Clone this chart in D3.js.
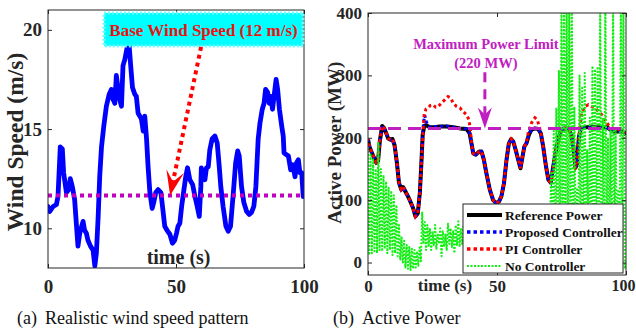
<!DOCTYPE html>
<html><head><meta charset="utf-8">
<script src="https://cdn.jsdelivr.net/npm/d3@7"></script>
<style>body{margin:0;background:#fff} svg{display:block}</style>
</head><body>
<svg id="c" width="636" height="334"></svg>
<script>
// ---------- DATA ----------
const windTicksX = [0, 50, 100];
const windTicksY = [10, 15, 20];
const baseWind = 11.65;
const windSpeed = [[0,11.1],[0.7,10.85],[2,11.1],[3.3,11.2],[3.9,11.6],[4.8,14.1],[5.6,14.0],[6.1,12.8],[7.2,11.8],[8.1,11.95],[8.7,12.5],[9.5,12.1],[10.4,11.45],[11.7,9.1],[12.4,9.75],[13.7,10.35],[14.3,9.9],[15,9.75],[15.6,9.4],[16.6,9.1],[17.6,8.9],[18.3,8.1],[18.9,8.75],[19.6,10.6],[20.2,12.6],[20.9,14.1],[21.8,15.15],[22.8,16.15],[23.9,16.75],[24.8,17.0],[25.4,16.5],[26.1,16.3],[26.7,17.7],[27.4,17.0],[28.0,16.5],[28.7,16.15],[29.3,18.2],[30.0,18.5],[30.9,19.1],[31.7,19.2],[32.3,18.2],[33.0,17.1],[33.9,16.75],[34.5,16.65],[35.2,15.8],[35.9,15.65],[36.5,15.5],[37.2,14.9],[37.8,15.65],[38.5,14.5],[39.1,13.1],[39.8,11.8],[40.7,11.0],[41.3,11.3],[42.1,11.8],[43.0,11.95],[44.1,11.8],[45.0,10.8],[45.6,10.1],[46.5,9.9],[47.6,9.7],[48.6,9.25],[49.5,9.4],[50.2,9.75],[50.8,10.1],[51.5,10.25],[52.2,11.1],[53.1,11.95],[53.8,12.6],[54.5,13.05],[55.4,12.45],[56.5,12.2],[57.4,11.6],[58.3,11.1],[59.1,10.6],[59.7,12.1],[59.9,13.05],[60.6,12.6],[61.3,12.45],[61.9,13.05],[62.6,13.1],[63.2,13.95],[64.1,14.5],[65.2,14.65],[66.1,14.3],[66.9,13.1],[67.5,12.1],[68.4,11.1],[69.5,10.1],[70.4,9.85],[71.3,10.1],[72.4,11.8],[73.3,13.3],[74.1,13.9],[74.7,13.65],[75.6,12.1],[76.5,11.3],[77.6,10.85],[78.6,10.7],[79.5,10.8],[80.4,11.1],[81.2,12.1],[82.1,14.5],[82.8,15.3],[83.7,16.0],[84.4,16.3],[85.0,17.0],[85.8,16.85],[86.4,16.3],[87.0,16.65],[87.7,16.0],[88.3,16.65],[89.1,17.5],[89.7,17.0],[90.4,16.0],[91.3,15.15],[91.9,14.65],[92.2,13.8],[93.2,13.7],[93.9,13.65],[94.8,12.95],[95.6,13.2],[96.5,12.6],[97.1,13.3],[97.8,13.45],[98.4,12.8],[99.1,12.8],[99.7,11.6],[100,11.6]];

const powerTicksX = [0, 50, 100];
const powerTicksY = [0, 100, 200, 300, 400];
const powerLimit = 215;
const refPower = [[0,198],[0.6,185],[1.9,172],[3.2,160],[3.9,163],[4.6,195],[5.5,219],[6.2,216],[7.1,207],[7.8,199],[8.7,197],[9.5,198],[10.3,188],[11.2,160],[12.0,128],[12.9,117],[13.6,121],[14.6,113],[15.5,106],[16.4,98],[17.5,87],[18.4,74],[19.3,79],[20.1,112],[20.7,160],[21.2,205],[21.8,219],[22.6,220],[23.9,217],[25.9,217],[27.8,218],[30.4,218],[33,217],[35.6,215],[38.2,214],[39.4,207],[40.1,191],[40.8,175],[41.8,173],[43.1,178],[44,178],[44.9,165],[45.9,143],[47.2,117],[48.5,100],[49.8,95],[50.8,98],[51.7,106],[52.7,127],[53.7,165],[54.6,191],[55.5,198],[56.3,194],[57.2,181],[58.2,165],[59.1,151],[59.9,170],[60.6,186],[61.4,191],[62.4,205],[63.4,213],[64.7,215],[66,214],[67,207],[67.9,186],[69,154],[69.9,133],[70.8,128],[71.8,154],[73.1,186],[74.4,207],[75.7,215],[77.6,215],[78.8,205],[79.6,185],[80.4,152],[81.0,157],[81.7,200],[82.5,215],[84.7,217],[88.6,217],[92.5,217],[95.1,210],[97.7,210],[99,210],[100,205]];
const proposedPower = [[0,198],[0.6,185],[1.9,172],[3.2,160],[3.9,163],[4.6,195],[5.5,219],[6.2,216],[7.1,207],[7.8,199],[8.7,197],[9.5,198],[10.3,188],[11.2,160],[12.0,128],[12.9,117],[13.6,121],[14.6,113],[15.5,106],[16.4,98],[17.5,87],[18.4,74],[19.3,79],[20.1,112],[20.7,160],[21.2,210],[21.6,226],[22.0,236],[22.6,226],[23.2,220],[23.9,217],[25.9,218],[27.8,218],[30.4,219],[33,217],[35.6,215],[38.2,214],[39.4,207],[40.1,191],[40.8,175],[41.8,173],[43.1,178],[44,178],[44.9,165],[45.9,143],[47.2,117],[48.5,100],[49.8,95],[50.8,98],[51.7,106],[52.7,127],[53.7,165],[54.6,191],[55.5,198],[56.3,194],[57.2,181],[58.2,165],[59.1,151],[59.9,170],[60.6,186],[61.4,191],[62.4,205],[63.4,213],[64.7,215],[66,214],[67,207],[67.9,186],[69,154],[69.9,133],[70.8,128],[71.8,154],[73.1,186],[74.4,207],[75.7,215],[77.6,215],[78.8,205],[79.6,185],[80.4,152],[81.0,157],[81.7,200],[82.5,216],[84.7,216],[88.6,216],[92.5,216],[95.1,211],[97.7,210],[99,210],[100,205]];
const piPower = [[0,198],[0.6,185],[1.9,172],[3.2,160],[3.9,163],[4.6,195],[5.5,219],[6.2,216],[7.1,207],[7.8,199],[8.7,197],[9.5,198],[10.3,188],[11.2,160],[12.0,128],[12.9,117],[13.6,121],[14.6,113],[15.5,106],[16.4,98],[17.5,87],[18.4,74],[19.3,79],[20.1,112],[20.7,160],[21.3,205],[21.8,238],[22.5,246],[23.3,248],[24.2,252],[25.2,253],[26.2,249],[27.2,250],[28.5,256],[29.8,261],[31,266],[32,264],[33,256],[34.3,250],[35.6,248],[36.9,242],[38.2,237],[39.1,229],[39.7,213],[40.1,191],[40.8,175],[41.8,173],[43.1,178],[44,178],[44.9,165],[45.9,143],[47.2,117],[48.5,100],[49.8,95],[50.8,98],[51.7,106],[52.7,127],[53.7,165],[54.6,191],[55.5,198],[56.3,194],[57.2,181],[58.2,165],[59.1,151],[59.9,170],[60.6,186],[61.4,191],[62.1,208],[63.4,224],[64.7,232],[65.6,229],[66.4,218],[67.3,202],[67.9,186],[69,154],[69.9,133],[70.8,128],[71.8,154],[73.1,186],[74.4,207],[75.7,215],[77.6,215],[78.8,205],[79.6,185],[80.4,152],[81.0,157],[81.7,200],[82.3,222],[82.8,240],[84.1,250],[85.4,253],[86.7,250],[88,248],[89.3,242],[90.6,237],[91.8,229],[93.1,221],[95.1,215],[97.7,213],[99,210],[100,205]];
// No-controller output sampled every 0.5 s from t = 0 to 100 s (one row = 10 s)
const noCtrlStep = 0.5;
const noCtrlPower = [
185,12,175,15,165,18,150,15,192,20,150,18,140,22,130,15,120,20,115,12,
108,15,92,10,60,5,42,0,35,-8,28,-10,25,-12,22,-10,20,-8,18,-5,
24,2,80,30,65,20,60,25,55,20,50,28,60,22,45,30,55,10,50,25,
45,20,62,30,55,25,50,15,60,28,66,25,55,30,60,20,55,25,50,22,
55,25,50,20,58,28,52,22,50,25,56,20,48,26,54,22,50,24,57,20,
52,26,49,21,55,25,51,23,58,20,50,27,53,22,49,25,56,21,52,24,
50,22,55,26,51,20,57,25,52,23,54,21,50,26,56,22,53,24,49,21,
60,40,143,20,211,10,248,0,307,-10,420,-15,420,-10,420,-15,420,-10,420,5,
250,20,120,10,300,-5,280,0,304,10,180,20,232,0,315,-10,310,-5,314,0,
420,-10,230,5,420,0,200,10,212,-5,420,-10,212,0,117,10,420,-15,420,-10,
0];
const legendLabels = ["Reference Power", "Proposed Controller", "PI Controller", "No Controller"];

// ---------- DRAW ----------
const svg = d3.select("#c");
const FONT = "'Liberation Serif','Times New Roman',Times,serif";
const AX = "#262626";

function frame(g, x, y, xt, yt, fs, padX, padY) {
  const [x0, x1] = x.range(), [y0, y1] = y.range();
  const style = sel => {
    sel.select(".domain").remove();
    sel.selectAll(".tick line").attr("stroke", AX);
    sel.selectAll("text").attr("fill", AX).attr("font-family", FONT)
       .attr("font-size", fs).attr("font-weight", "bold");
  };
  const xb = g.append("g").attr("transform", `translate(0,${y0})`)
    .call(d3.axisBottom(x).tickValues(xt).tickSize(-4).tickPadding(padX)).call(style);
  g.append("g").attr("transform", `translate(0,${y1})`)
    .call(d3.axisTop(x).tickValues(xt).tickSize(-4).tickFormat("")).call(style);
  g.append("g").attr("transform", `translate(${x0},0)`)
    .call(d3.axisLeft(y).tickValues(yt).tickSize(-4).tickPadding(padY)).call(style);
  g.append("g").attr("transform", `translate(${x1},0)`)
    .call(d3.axisRight(y).tickValues(yt).tickSize(-4).tickFormat("")).call(style);
  g.append("rect").attr("x", x0).attr("y", y1).attr("width", x1 - x0).attr("height", y0 - y1)
    .attr("fill", "none").attr("stroke", AX).attr("stroke-width", 1);
  return xb;
}

function arrow(g, x0, y0, x1, y1, len, hw, notch, color, dash, w) {
  const dx = x1 - x0, dy = y1 - y0, L = Math.hypot(dx, dy), ux = dx / L, uy = dy / L, px = -uy, py = ux;
  const bx = x1 - ux * len, by = y1 - uy * len, nx = x1 - ux * notch, ny = y1 - uy * notch;
  g.append("line").attr("x1", x0).attr("y1", y0).attr("x2", nx).attr("y2", ny)
    .attr("stroke", color).attr("stroke-width", w).attr("stroke-dasharray", dash);
  g.append("path").attr("d", `M${x1},${y1}L${bx + px * hw},${by + py * hw}L${nx},${ny}L${bx - px * hw},${by - py * hw}Z`)
    .attr("fill", color);
}

// ----- Left panel -----
const xW = d3.scaleLinear([0, 100], [48, 304]);
const yW = d3.scaleLinear([8, 21], [268, 10]);
const gL = svg.append("g");
svg.append("clipPath").attr("id", "clipL").append("rect")
  .attr("x", 48).attr("y", 10).attr("width", 256).attr("height", 258);
gL.append("path").datum(windSpeed).attr("clip-path", "url(#clipL)")
  .attr("d", d3.line().x(d => xW(d[0])).y(d => yW(d[1])))
  .attr("fill", "none").attr("stroke", "#0000ff").attr("stroke-width", 4.8)
  .attr("stroke-linejoin", "round").attr("stroke-linecap", "round");
gL.append("line").attr("x1", xW(0)).attr("x2", xW(100)).attr("y1", yW(baseWind)).attr("y2", yW(baseWind))
  .attr("stroke", "#bf00bf").attr("stroke-width", 4).attr("stroke-dasharray", "4,4");
frame(gL, xW, yW, windTicksX, windTicksY, 19, 12, 6);
gL.append("text").attr("x", xW(51)).attr("y", 264).attr("text-anchor", "middle")
  .attr("font-family", FONT).attr("font-weight", "bold").attr("font-size", 20).attr("fill", AX).text("time (s)");
gL.append("text").attr("transform", `translate(23,${yW(14.35)}) rotate(-90)`).attr("text-anchor", "middle")
  .attr("font-family", FONT).attr("font-weight", "bold").attr("font-size", 23.5).attr("fill", AX).text("Wind Speed (m/s)");
// annotation
const bx0 = xW(21.9), bx1 = xW(99.6), by0 = yW(20.85), by1 = yW(19.19);
gL.append("rect").attr("x", bx0).attr("y", by0).attr("width", bx1 - bx0).attr("height", by1 - by0)
  .attr("fill", "#00ffff").attr("stroke", "#66ffff").attr("stroke-width", 3).attr("stroke-dasharray", "2,2");
gL.append("text").attr("x", (bx0 + bx1) / 2).attr("y", yW(19.69)).attr("text-anchor", "middle")
  .attr("font-family", FONT).attr("font-weight", "bold").attr("font-size", 17).attr("fill", "#ee1111")
  .text("Base Wind Speed (12 m/s)");
arrow(gL, xW(59.8), yW(19.14), xW(47.7), yW(baseWind), 25, 9, 14, "#ff0000", "4,4", 4);

// ----- Right panel -----
const xP = d3.scaleLinear([0, 100], [368, 626]);
const yP = d3.scaleLinear([-20, 400], [275, 13]);
const gR = svg.append("g");
svg.append("clipPath").attr("id", "clipR").append("rect")
  .attr("x", 368).attr("y", 13).attr("width", 258).attr("height", 262);
const lineP = d3.line().x(d => xP(d[0])).y(d => yP(d[1]));
const series = gR.append("g").attr("clip-path", "url(#clipR)");
series.append("path").datum(refPower).attr("d", lineP).attr("fill", "none")
  .attr("stroke", "#000").attr("stroke-width", 4).attr("stroke-linejoin", "round");
series.append("path").datum(proposedPower).attr("d", lineP).attr("fill", "none")
  .attr("stroke", "#0000ff").attr("stroke-width", 3).attr("stroke-dasharray", "3,3");
series.append("path").datum(piPower).attr("d", lineP).attr("fill", "none")
  .attr("stroke", "#ff0000").attr("stroke-width", 3).attr("stroke-dasharray", "3,3").attr("stroke-dashoffset", 1.5);
series.append("path").datum(noCtrlPower).attr("fill", "none")
  .attr("d", d3.line().x((d, i) => xP(i * noCtrlStep)).y(d => yP(d)))
  .attr("stroke", "#11ee11").attr("stroke-width", 2).attr("stroke-dasharray", "2,1.5").attr("stroke-linejoin", "round");
series.append("line").attr("x1", xP(0)).attr("x2", xP(100)).attr("y1", yP(powerLimit)).attr("y2", yP(powerLimit))
  .attr("stroke", "#bf1fbf").attr("stroke-width", 3).attr("stroke-dasharray", "13,7");
const xbR = frame(gR, xP, yP, powerTicksX, powerTicksY, 17, 5, 6);
// keep the last x tick label inside the page
xbR.selectAll(".tick text").filter(d => d === 100).attr("font-size", 16).attr("dx", -3);
gR.append("text").attr("x", 445).attr("y", 291).attr("text-anchor", "middle")
  .attr("font-family", FONT).attr("font-weight", "bold").attr("font-size", 17).attr("fill", AX).text("time (s)");
gR.append("text").attr("transform", `translate(341,${yP(192)}) rotate(-90)`).attr("text-anchor", "middle")
  .attr("font-family", FONT).attr("font-weight", "bold").attr("font-size", 19).attr("fill", AX).text("Active Power (MW)");
gR.append("text").attr("x", xP(45.7)).attr("y", yP(342)).attr("text-anchor", "middle")
  .attr("font-family", FONT).attr("font-weight", "bold").attr("font-size", 14.5).attr("fill", "#c020c0").text("Maximum Power Limit");
gR.append("text").attr("x", xP(45.7)).attr("y", yP(312)).attr("text-anchor", "middle")
  .attr("font-family", FONT).attr("font-weight", "bold").attr("font-size", 14.5).attr("fill", "#c020c0").text("(220 MW)");
arrow(gR, xP(45.3), yP(305), xP(45.3), yP(powerLimit), 21, 7, 14, "#bf1fbf", "10,7", 3);

// legend
const lg = gR.append("g").attr("transform", "translate(463,204)");
lg.append("rect").attr("width", 160).attr("height", 69).attr("fill", "#fff").attr("stroke", AX).attr("stroke-width", 1);
const lstyles = [
  {c: "#000", w: 4, d: null},
  {c: "#0000ff", w: 3.5, d: "3.5,3"},
  {c: "#ff0000", w: 3.5, d: "3.5,3"},
  {c: "#11ee11", w: 2, d: "2,1.5"}];
legendLabels.forEach((lab, i) => {
  const yy = 11 + i * 17;
  const l = lg.append("line").attr("x1", 4).attr("x2", 39).attr("y1", yy).attr("y2", yy)
    .attr("stroke", lstyles[i].c).attr("stroke-width", lstyles[i].w);
  if (lstyles[i].d) l.attr("stroke-dasharray", lstyles[i].d);
  lg.append("text").attr("x", 42).attr("y", yy).attr("dy", "0.35em")
    .attr("font-family", FONT).attr("font-weight", "bold").attr("font-size", 13.5).attr("fill", "#111").text(lab);
});

// captions
const cap = svg.append("g").attr("font-family", FONT).attr("font-size", 18).attr("fill", "#111");
cap.append("text").attr("x", 17).attr("y", 324).text("(a)");
cap.append("text").attr("x", 45).attr("y", 324).text("Realistic wind speed pattern");
cap.append("text").attr("x", 333).attr("y", 324).text("(b)");
cap.append("text").attr("x", 362).attr("y", 324).text("Active Power");
</script>
</body></html>
